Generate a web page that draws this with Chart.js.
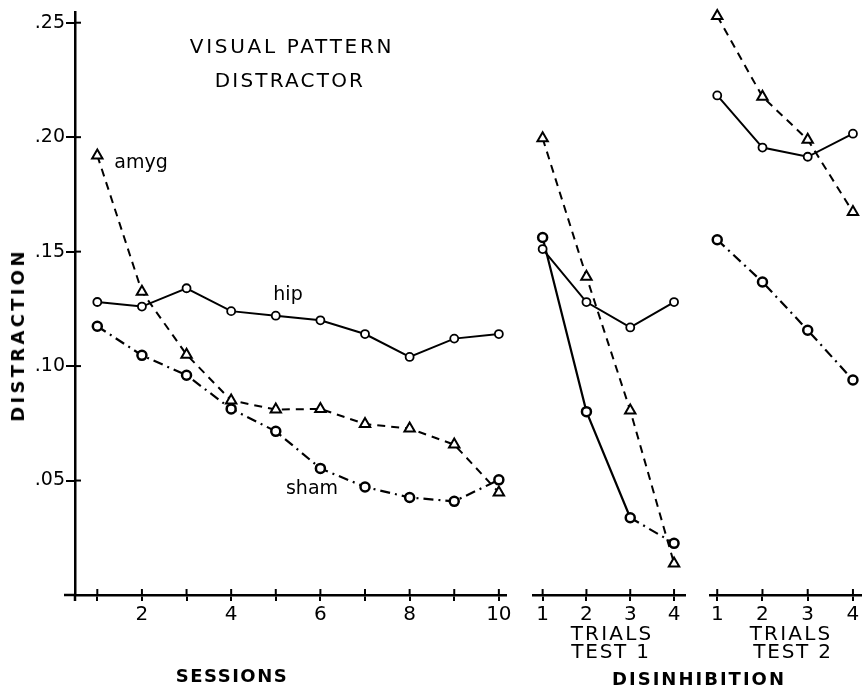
<!DOCTYPE html>
<html lang="en">
<head>
<meta charset="UTF-8">
<title>Visual Pattern Distractor</title>
<script src="https://cdn.jsdelivr.net/npm/chart.js"></script>
<style>
  body { margin: 0; background: #fff; color: #000; font-family: 'DejaVu Sans', sans-serif; }
  #page { position: relative; width: 862px; height: 692px; overflow: hidden; background: #fff; }
  .panel { position: absolute; top: 0; height: 692px; }
  .lbl { position: absolute; transform: translate(-50%, -50%); white-space: nowrap; line-height: 1; font-size: 19px; }
  .caps { font-size: 20px; letter-spacing: 2.2px; }
  .bold { font-weight: bold; font-size: 18px; }
  .rot { transform: translate(-50%, -50%) rotate(-90deg); }
</style>
</head>
<body>
<div id="page">
  <div class="panel" style="left:0;width:520px"><canvas id="sessChart" width="520" height="692"></canvas></div>
  <div class="panel" style="left:520px;width:180px"><canvas id="test1Chart" width="180" height="692"></canvas></div>
  <div class="panel" style="left:700px;width:175px"><canvas id="test2Chart" width="175" height="692"></canvas></div>

  <div class="lbl caps" style="left:292px;top:46px;letter-spacing:2.7px">VISUAL PATTERN</div>
  <div class="lbl caps" style="left:290px;top:80px">DISTRACTOR</div>
  <div class="lbl" style="left:141px;top:161px">amyg</div>
  <div class="lbl" style="left:288px;top:293px">hip</div>
  <div class="lbl" style="left:312px;top:487px">sham</div>
  <div class="lbl bold" style="left:232px;top:676px;letter-spacing:1.5px">SESSIONS</div>
  <div class="lbl bold rot" style="left:18px;top:335px;letter-spacing:3.3px">DISTRACTION</div>
  <div class="lbl caps" style="left:612px;top:633px">TRIALS</div>
  <div class="lbl caps" style="left:611px;top:651px;letter-spacing:1.8px">TEST 1</div>
  <div class="lbl caps" style="left:791px;top:633px">TRIALS</div>
  <div class="lbl caps" style="left:793px;top:651px;letter-spacing:1.8px">TEST 2</div>
  <div class="lbl bold" style="left:699px;top:679px;letter-spacing:2px">DISINHIBITION</div>
</div>

<script>
    // x positions
    const sessions = [1, 2, 3, 4, 5, 6, 7, 8, 9, 10];
    const trials = [1, 2, 3, 4];

    // sessions panel
    const hipSessions  = [0.128, 0.126, 0.134, 0.124, 0.122, 0.120, 0.114, 0.104, 0.112, 0.114];
    const amygSessions = [0.192, 0.1325, 0.105, 0.085, 0.081, 0.0813, 0.0747, 0.0727, 0.0657, 0.0448];
    const shamSessions = [0.1174, 0.1047, 0.096, 0.0813, 0.0715, 0.0553, 0.0472, 0.0426, 0.0409, 0.0503];

    // disinhibition, test 1
    const hipTest1  = [0.150, 0.127, 0.116, 0.127];
    const amygTest1 = [0.198, 0.138, 0.080, 0.0137];
    const shamTest1 = [0.155, 0.0795, 0.0335, 0.0224];

    // disinhibition, test 2
    const hipTest2  = [0.2166, 0.194, 0.190, 0.200];
    const amygTest2 = [0.251, 0.216, 0.1974, 0.166];
    const shamTest2 = [0.154, 0.1357, 0.1148, 0.0932];

    const yTicks = [0.05, 0.10, 0.15, 0.20, 0.25];

    const FONT = "'DejaVu Sans', sans-serif";
    const DASH = [8, 6];
    const DASH_DOT = [10, 5, 2, 5];

    function pts(xs, ys) {
        return ys.map((v, i) => ({ x: xs[i], y: v }));
    }

    function hip(xs, ys) {
        return {
            label: 'hip', data: pts(xs, ys),
            borderColor: '#000', borderWidth: 2,
            pointStyle: 'circle', pointRadius: 4, pointBorderWidth: 1.8,
            pointBackgroundColor: '#fff', pointBorderColor: '#000'
        };
    }
    function amyg(xs, ys) {
        return {
            label: 'amyg', data: pts(xs, ys),
            borderColor: '#000', borderWidth: 2, borderDash: DASH,
            pointStyle: 'triangle', pointRadius: 6, pointBorderWidth: 2,
            pointBackgroundColor: '#fff', pointBorderColor: '#000'
        };
    }
    function sham(xs, ys, solidSegments) {
        return {
            label: 'sham', data: pts(xs, ys),
            borderColor: '#000', borderWidth: 2.2, borderDash: DASH_DOT,
            segment: {
                borderDash: ctx => ctx.p0DataIndex < (solidSegments || 0) ? [] : DASH_DOT
            },
            pointStyle: 'circle', pointRadius: 4.5, pointBorderWidth: 2.5,
            pointBackgroundColor: '#fff', pointBorderColor: '#000'
        };
    }

    // small tick marks that cross the axis lines, like the drawn figure
    const crossTicks = {
        id: 'crossTicks',
        afterDraw(chart) {
            const ctx = chart.ctx, area = chart.chartArea;
            const xs = chart.scales.x, ys = chart.scales.y;
            ctx.save();
            ctx.strokeStyle = '#000';
            ctx.lineWidth = 2;
            xs.ticks.forEach(t => {
                const px = xs.getPixelForValue(t.value);
                ctx.beginPath();
                ctx.moveTo(px, area.bottom);
                ctx.lineTo(px, area.bottom - 6);
                ctx.stroke();
            });
            if (ys.options.display) {
                ys.ticks.forEach(t => {
                    const py = ys.getPixelForValue(t.value);
                    ctx.beginPath();
                    ctx.moveTo(area.left, py);
                    ctx.lineTo(area.left + 6, py);
                    ctx.stroke();
                });
                // axis stubs past the origin
                ctx.lineWidth = 2.5;
                ctx.beginPath();
                ctx.moveTo(area.left - 11, area.bottom);
                ctx.lineTo(area.left, area.bottom);
                ctx.moveTo(area.left, area.bottom);
                ctx.lineTo(area.left, area.bottom + 6);
                ctx.stroke();
            }
            ctx.restore();
        }
    };

    function makeChart(id, xMin, xMax, datasets, opts) {
        const showY = opts.showY;
        new Chart(document.getElementById(id), {
            type: 'line',
            data: { datasets: datasets },
            plugins: [crossTicks],
            options: {
                responsive: false,
                animation: false,
                devicePixelRatio: 1,
                layout: { padding: { top: 7, bottom: 0, left: opts.padLeft, right: opts.padRight } },
                plugins: { legend: { display: false }, tooltip: { enabled: false } },
                elements: { line: { tension: 0 } },
                scales: {
                    x: {
                        type: 'linear', min: xMin, max: xMax,
                        afterFit: s => { s.height = 97; },
                        border: { display: true, color: '#000', width: 2.5 },
                        grid: { drawOnChartArea: false, drawTicks: true, tickLength: 6, color: '#000', lineWidth: 2 },
                        ticks: {
                            stepSize: 1, includeBounds: false, autoSkip: false, maxRotation: 0,
                            padding: 2, color: '#000',
                            font: { family: FONT, size: 20 },
                            callback: v => opts.xLabel(v)
                        }
                    },
                    y: {
                        type: 'linear', min: 0, max: 0.2545, display: showY,
                        afterFit: s => { s.width = showY ? 75 : 0; },
                        border: { display: true, color: '#000', width: 2.5 },
                        grid: { drawOnChartArea: false, drawTicks: true, tickLength: 9, color: '#000', lineWidth: 2 },
                        afterBuildTicks: s => { s.ticks = [0].concat(yTicks).map(v => ({ value: v })); },
                        ticks: {
                            padding: 1, color: '#000',
                            font: { family: FONT, size: 19 },
                            callback: v => v === 0 ? '' : v.toFixed(2).replace('0.', '.')
                        }
                    }
                }
            }
        });
    }

    makeChart('sessChart', 0.5, 10.16, [
        hip(sessions, hipSessions),
        amyg(sessions, amygSessions),
        sham(sessions, shamSessions, 0)
    ], { showY: true, padLeft: 0, padRight: 14, xLabel: v => (v % 2 === 0 ? String(v) : '') });

    makeChart('test1Chart', 0.78, 4.25, [
        hip(trials, hipTest1),
        amyg(trials, amygTest1),
        sham(trials, shamTest1, 2)
    ], { showY: false, padLeft: 13, padRight: 15, xLabel: v => String(v) });

    makeChart('test2Chart', 0.84, 4.2, [
        hip(trials, hipTest2),
        amyg(trials, amygTest2),
        sham(trials, shamTest2, 0)
    ], { showY: false, padLeft: 10, padRight: 13, xLabel: v => String(v) });
</script>
</body>
</html>
